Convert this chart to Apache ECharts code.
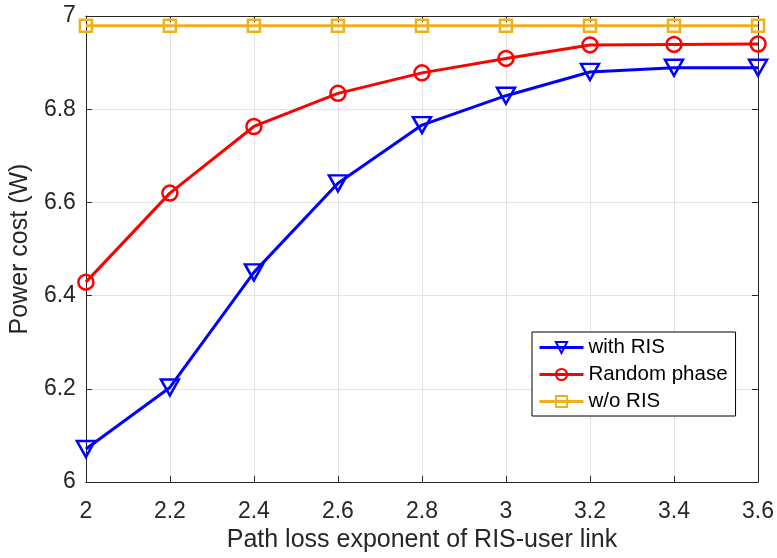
<!DOCTYPE html>
<html><head><meta charset="utf-8">
<script src="https://cdn.jsdelivr.net/npm/echarts@6/dist/echarts.min.js"></script>
<style>html,body{margin:0;padding:0;background:#fff}#c{width:777px;height:558px}</style>
</head><body><div id="c"></div>
<script>
const xValues = [2, 2.2, 2.4, 2.6, 2.8, 3, 3.2, 3.4, 3.6];
const withRIS = [6.071, 6.203, 6.450, 6.641, 6.766, 6.829, 6.880, 6.889, 6.889];
const randomPhase = [6.429, 6.620, 6.763, 6.834, 6.878, 6.909, 6.938, 6.939, 6.940];
const woRIS = [6.979, 6.979, 6.979, 6.979, 6.979, 6.979, 6.979, 6.979, 6.979];
const seriesNames = ['with RIS', 'Random phase', 'w/o RIS'];

const pair = arr => xValues.map((x, i) => [x, arr[i]]);
const font = 'Liberation Sans, Arial, sans-serif';
const axisCol = '#262626';
const chart = echarts.init(document.getElementById('c'));
chart.setOption({
  animation: false,
  backgroundColor: '#fff',
  grid: {left: 84, right: 16, top: 16, bottom: 71, containLabel: false},
  legend: {
    orient: 'vertical', left: 532, top: 332,
    backgroundColor: '#fff', borderColor: '#000', borderWidth: 1,
    padding: [5, 8, 4, 6], itemGap: 6, itemWidth: 44, itemHeight: 14,
    textStyle: {fontFamily: font, fontSize: 20.5, color: '#000'},
    lineStyle: {width: 3},
    data: seriesNames
  },
  xAxis: [{
    type: 'value', min: 2, max: 3.6, interval: 0.2,
    name: 'Path loss exponent of RIS-user link', nameLocation: 'middle', nameGap: 41,
    nameTextStyle: {fontFamily: font, fontSize: 25, color: '#262626'},
    axisLine: {show: true, lineStyle: {color: axisCol, width: 1}},
    axisTick: {show: true, inside: true, length: 6, lineStyle: {color: axisCol}},
    axisLabel: {fontFamily: font, fontSize: 23, color: '#262626', margin: 18},
    splitLine: {show: true, lineStyle: {color: '#e3e3e3', width: 1}}
  }, {
    type: 'value', min: 2, max: 3.6, interval: 0.2, position: 'top',
    axisLine: {show: true, onZero: false, lineStyle: {color: axisCol, width: 1}},
    axisTick: {show: true, inside: true, length: 6, lineStyle: {color: axisCol}},
    axisLabel: {show: false}, splitLine: {show: false}
  }],
  yAxis: [{
    type: 'value', min: 6, max: 7, interval: 0.2,
    name: 'Power cost (W)', nameLocation: 'middle', nameGap: 52,
    nameTextStyle: {fontFamily: font, fontSize: 25, color: '#262626'},
    axisLine: {show: true, lineStyle: {color: axisCol, width: 1}},
    axisTick: {show: true, inside: true, length: 6, lineStyle: {color: axisCol}},
    axisLabel: {fontFamily: font, fontSize: 23, color: '#262626', margin: 10},
    splitLine: {show: true, lineStyle: {color: '#e3e3e3', width: 1}}
  }, {
    type: 'value', min: 6, max: 7, interval: 0.2, position: 'right',
    axisLine: {show: true, onZero: false, lineStyle: {color: axisCol, width: 1}},
    axisTick: {show: true, inside: true, length: 6, lineStyle: {color: axisCol}},
    axisLabel: {show: false}, splitLine: {show: false}
  }],
  series: [{
    name: seriesNames[0], type: 'line', data: pair(withRIS),
    symbol: 'triangle', symbolRotate: 180, symbolSize: [18, 16], z: 4,
    lineStyle: {color: '#0000ff', width: 3},
    itemStyle: {color: 'rgba(255,255,255,0)', borderColor: '#0000ff', borderWidth: 2.5}
  }, {
    name: seriesNames[1], type: 'line', data: pair(randomPhase),
    symbol: 'circle', symbolSize: 15, z: 3,
    lineStyle: {color: '#ff0000', width: 3},
    itemStyle: {color: 'rgba(255,255,255,0)', borderColor: '#ff0000', borderWidth: 2.5}
  }, {
    name: seriesNames[2], type: 'line', data: pair(woRIS),
    symbol: 'rect', symbolSize: 12, z: 2,
    lineStyle: {color: '#EDB120', width: 3},
    itemStyle: {color: 'rgba(255,255,255,0)', borderColor: '#EDB120', borderWidth: 2.5}
  }]
});
</script></body></html>
